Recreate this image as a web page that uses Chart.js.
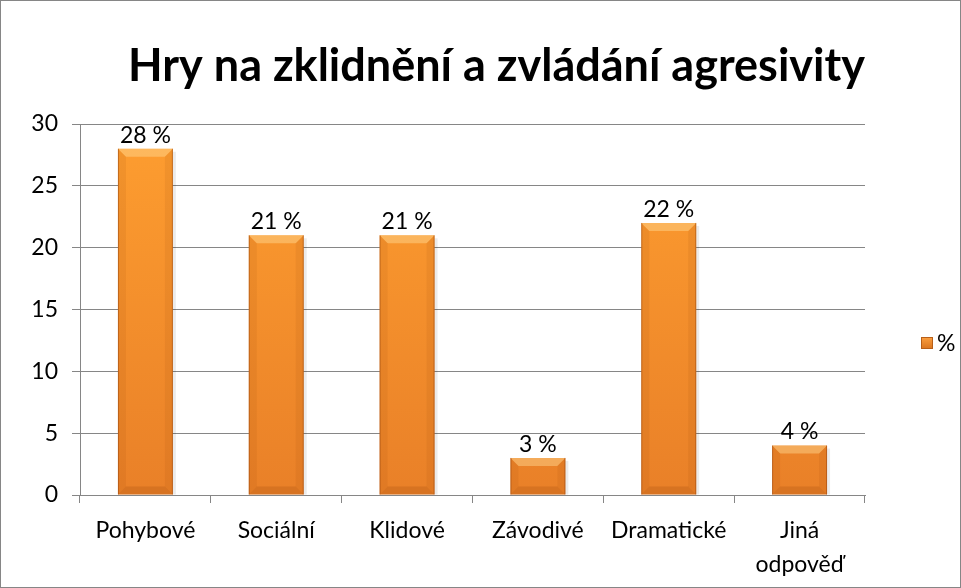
<!DOCTYPE html>
<html>
<head>
<meta charset="utf-8">
<script src="https://cdn.jsdelivr.net/npm/chart.js@4"></script>
<style>
  html, body { margin: 0; padding: 0; background: #fff; }
  .box { width: 959px; height: 586px; border: 1px solid #868686; }
</style>
</head>
<body>
<div class="box"><canvas id="myChart" width="959" height="586"></canvas></div>
<script>
let categories = ['Pohybové', 'Sociální', 'Klidové', 'Závodivé', 'Dramatické', ['Jiná', 'odpověď']]
let values = [28, 21, 21, 3, 22, 4]
let yTicks = [0, 5, 10, 15, 20, 25, 30]
let seriesName = '%'

let font = "Lato, 'Open Sans', sans-serif"
let gray = '#868686'

function barFill(context) {
  let chart = context.chart
  let area = chart.chartArea
  if (!area) return '#f29030'
  let g = chart.ctx.createLinearGradient(0, area.top, 0, area.bottom)
  g.addColorStop(0, '#fe9e30')
  g.addColorStop(1, '#e98028')
  return g
}

// bevel shading on the bars, like the office 3D look
let bevel = {
  id: 'bevel',
  afterDatasetsDraw(chart) {
    let ctx = chart.ctx
    chart.getDatasetMeta(0).data.forEach(function(bar) {
      let l = bar.x - bar.width / 2, r = bar.x + bar.width / 2
      let t = bar.y, b = bar.base
      let e = Math.min(8, (b - t) / 3)
      ctx.save()
      // soft shadow
      ctx.fillStyle = 'rgba(0,0,0,0.08)'
      ctx.fillRect(r, t + 3, 3, b - t - 3)
      // top facet
      ctx.fillStyle = 'rgba(255,220,150,0.45)'
      ctx.beginPath()
      ctx.moveTo(l, t); ctx.lineTo(r, t); ctx.lineTo(r - e, t + e); ctx.lineTo(l + e, t + e); ctx.closePath(); ctx.fill()
      // sides
      ctx.fillStyle = 'rgba(150,70,10,0.10)'
      ctx.beginPath()
      ctx.moveTo(l, t); ctx.lineTo(l + e, t + e); ctx.lineTo(l + e, b - e); ctx.lineTo(l, b); ctx.closePath(); ctx.fill()
      ctx.beginPath()
      ctx.moveTo(r, t); ctx.lineTo(r - e, t + e); ctx.lineTo(r - e, b - e); ctx.lineTo(r, b); ctx.closePath(); ctx.fill()
      // bottom
      ctx.fillStyle = 'rgba(150,70,10,0.22)'
      ctx.beginPath()
      ctx.moveTo(l, b); ctx.lineTo(l + e, b - e); ctx.lineTo(r - e, b - e); ctx.lineTo(r, b); ctx.closePath(); ctx.fill()
      // thin dark edges
      ctx.strokeStyle = 'rgba(140,60,10,0.45)'
      ctx.lineWidth = 1
      ctx.beginPath()
      ctx.moveTo(l + 0.5, t); ctx.lineTo(l + 0.5, b)
      ctx.moveTo(r - 0.5, t); ctx.lineTo(r - 0.5, b)
      ctx.stroke()
      ctx.restore()
    })
  }
}

let valueLabels = {
  id: 'valueLabels',
  afterDatasetsDraw(chart) {
    let ctx = chart.ctx
    ctx.save()
    ctx.font = "23px " + font
    ctx.fillStyle = '#000'
    ctx.textAlign = 'center'
    ctx.textBaseline = 'bottom'
    chart.getDatasetMeta(0).data.forEach(function(bar, i) {
      ctx.fillText(values[i] + ' %', bar.x, bar.y - 2)
    })
    ctx.restore()
  }
}

// legend drawn to the right of the plot area
let sideLegend = {
  id: 'sideLegend',
  afterDraw(chart) {
    let ctx = chart.ctx
    let x = chart.chartArea.right + 56
    let y = 342
    ctx.save()
    let g = ctx.createLinearGradient(0, y - 6, 0, y + 6)
    g.addColorStop(0, '#fca040')
    g.addColorStop(1, '#d9741f')
    ctx.fillStyle = g
    ctx.fillRect(x, y - 6, 12, 12)
    ctx.strokeStyle = '#b85f18'
    ctx.lineWidth = 1
    ctx.strokeRect(x + 0.5, y - 5.5, 11, 11)
    ctx.font = "23px " + font
    ctx.fillStyle = '#000'
    ctx.textBaseline = 'middle'
    ctx.fillText(seriesName, x + 16, y + 1)
    ctx.restore()
  }
}

new Chart(document.getElementById('myChart'), {
  type: 'bar',
  data: {
    labels: categories,
    datasets: [{
      label: seriesName,
      data: values,
      backgroundColor: barFill,
      borderWidth: 0,
      categoryPercentage: 1,
      barPercentage: 0.42
    }]
  },
  options: {
    responsive: false,
    animation: false,
    layout: { padding: { left: 0, right: 95, top: 0, bottom: 0 } },
    plugins: {
      title: {
        display: true,
        align: 'end',
        text: 'Hry na zklidnění a zvládání agresivity',
        color: '#000',
        font: { family: font, size: 45, weight: 'bold', lineHeight: 1.2 },
        padding: { top: 38, bottom: 31 }
      },
      legend: { display: false },
      tooltip: { enabled: false }
    },
    scales: {
      y: {
        min: 0,
        max: 30,
        afterBuildTicks: function(scale) { scale.ticks = yTicks.map(v => ({ value: v })) },
        afterFit: function(scale) { scale.width = 79 },
        border: { color: gray },
        grid: { color: gray, tickLength: 8 },
        ticks: { color: '#000', font: { family: font, size: 23 }, padding: 14 }
      },
      x: {
        offset: true,
        afterFit: function(scale) { scale.height = 92 },
        border: { color: gray },
        grid: { color: gray, drawOnChartArea: false, tickLength: 8, offset: true },
        ticks: { color: '#000', font: { family: font, size: 23, lineHeight: 1.5 }, padding: 10, maxRotation: 0 }
      }
    }
  },
  plugins: [bevel, valueLabels, sideLegend]
});
</script>
</body>
</html>
